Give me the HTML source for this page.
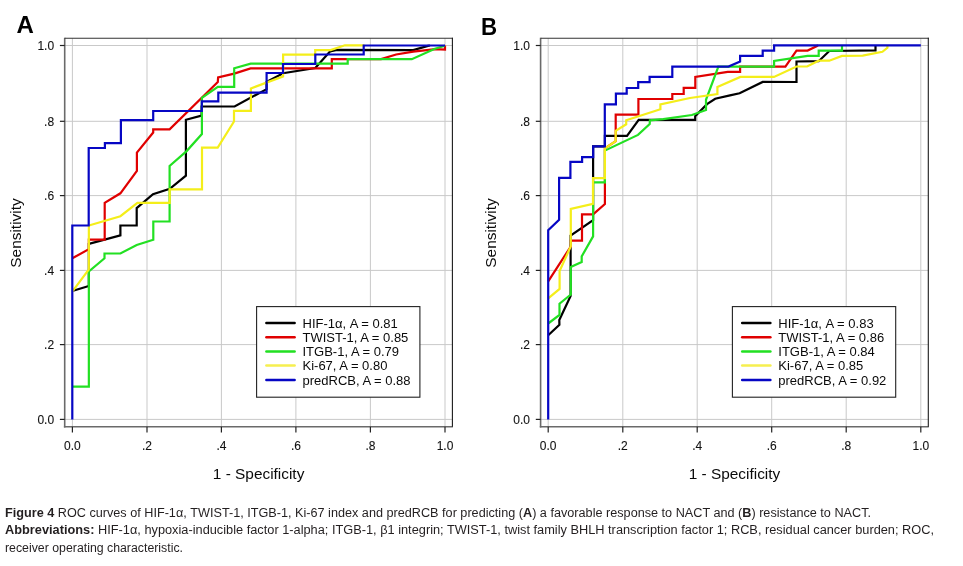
<!DOCTYPE html>
<html><head><meta charset="utf-8"><style>
html,body{margin:0;padding:0;background:#fff;}
body{width:963px;height:566px;overflow:hidden;position:relative;font-family:"Liberation Sans",sans-serif;}
svg{position:absolute;left:0;top:0;}
.g{stroke:#c9c9c9;stroke-width:1;}
.fr{fill:none;stroke:#4a4a4a;stroke-width:1.3;}
.t{stroke:#222;stroke-width:1.2;}
.tl{font-family:"Liberation Sans",sans-serif;font-size:12px;fill:#111;stroke:#111;stroke-width:0.1px;}
.lt{font-family:"Liberation Sans",sans-serif;font-size:13px;fill:#0a0a0a;}
.lg{fill:#fff;stroke:#222;stroke-width:1.1;}
.at{font-family:"Liberation Sans",sans-serif;font-size:15.4px;fill:#0a0a0a;}
.pl{font-family:"Liberation Sans",sans-serif;font-size:24px;font-weight:bold;fill:#000;}
.cap{font-family:"Liberation Sans",sans-serif;font-size:12px;fill:#231f20;}
.cap tspan.b{font-weight:bold;}
</style></head><body>
<svg style="will-change:transform" width="963" height="566" viewBox="0 0 963 566">
<line x1="72.4" y1="38.3" x2="72.4" y2="426.8" class="g"/>
<line x1="64.7" y1="419.4" x2="452.4" y2="419.4" class="g"/>
<line x1="147.0" y1="38.3" x2="147.0" y2="426.8" class="g"/>
<line x1="64.7" y1="344.6" x2="452.4" y2="344.6" class="g"/>
<line x1="221.4" y1="38.3" x2="221.4" y2="426.8" class="g"/>
<line x1="64.7" y1="270.4" x2="452.4" y2="270.4" class="g"/>
<line x1="295.9" y1="38.3" x2="295.9" y2="426.8" class="g"/>
<line x1="64.7" y1="195.6" x2="452.4" y2="195.6" class="g"/>
<line x1="370.4" y1="38.3" x2="370.4" y2="426.8" class="g"/>
<line x1="64.7" y1="121.3" x2="452.4" y2="121.3" class="g"/>
<line x1="445.0" y1="38.3" x2="445.0" y2="426.8" class="g"/>
<line x1="64.7" y1="45.5" x2="452.4" y2="45.5" class="g"/>
<line x1="64.7" y1="37.8" x2="64.7" y2="427.6" stroke="#6a6a6a" stroke-width="1.6"/>
<line x1="63.9" y1="426.8" x2="452.9" y2="426.8" stroke="#6a6a6a" stroke-width="1.6"/>
<line x1="64.7" y1="38.3" x2="452.9" y2="38.3" stroke="#333" stroke-width="1.1"/>
<line x1="452.4" y1="37.8" x2="452.4" y2="426.8" stroke="#1a1a1a" stroke-width="1.1"/>
<line x1="59.9" y1="419.4" x2="64.7" y2="419.4" class="t"/>
<line x1="72.4" y1="426.8" x2="72.4" y2="432.6" class="t"/>
<text x="54.1" y="423.7" class="tl" text-anchor="end">0.0</text>
<text x="72.4" y="449.8" class="tl" text-anchor="middle">0.0</text>
<line x1="59.9" y1="344.6" x2="64.7" y2="344.6" class="t"/>
<line x1="147.0" y1="426.8" x2="147.0" y2="432.6" class="t"/>
<text x="54.1" y="348.9" class="tl" text-anchor="end">.2</text>
<text x="147.0" y="449.8" class="tl" text-anchor="middle">.2</text>
<line x1="59.9" y1="270.4" x2="64.7" y2="270.4" class="t"/>
<line x1="221.4" y1="426.8" x2="221.4" y2="432.6" class="t"/>
<text x="54.1" y="274.7" class="tl" text-anchor="end">.4</text>
<text x="221.4" y="449.8" class="tl" text-anchor="middle">.4</text>
<line x1="59.9" y1="195.6" x2="64.7" y2="195.6" class="t"/>
<line x1="295.9" y1="426.8" x2="295.9" y2="432.6" class="t"/>
<text x="54.1" y="199.9" class="tl" text-anchor="end">.6</text>
<text x="295.9" y="449.8" class="tl" text-anchor="middle">.6</text>
<line x1="59.9" y1="121.3" x2="64.7" y2="121.3" class="t"/>
<line x1="370.4" y1="426.8" x2="370.4" y2="432.6" class="t"/>
<text x="54.1" y="125.6" class="tl" text-anchor="end">.8</text>
<text x="370.4" y="449.8" class="tl" text-anchor="middle">.8</text>
<line x1="59.9" y1="45.5" x2="64.7" y2="45.5" class="t"/>
<line x1="445.0" y1="426.8" x2="445.0" y2="432.6" class="t"/>
<text x="54.1" y="49.8" class="tl" text-anchor="end">1.0</text>
<text x="445.0" y="449.8" class="tl" text-anchor="middle">1.0</text>
<polyline points="72.30,291.0 88.85,286.0 88.85,243.9 120.40,235.4 120.40,225.5 136.70,225.5 136.70,208.1 153.00,194.2 169.80,188.8 185.90,175.7 185.90,119.8 201.60,115.6 201.60,106.5 234.60,106.5 266.60,89.1 266.60,82.0 283.00,73.2 315.30,68.0 330.00,51.5 337.00,49.9 413.30,50.1 428.00,45.9 430.00,45.5" fill="none" stroke="#000000" stroke-width="2.2" stroke-linejoin="miter" stroke-miterlimit="2" stroke-linecap="butt"/>
<polyline points="72.30,258.3 88.85,249.2 88.85,239.7 104.70,239.7 104.70,202.8 120.40,193.3 136.90,171.0 136.90,152.6 153.20,132.5 153.20,129.4 169.60,129.4 217.80,82.0 218.10,77.5 234.20,73.6 250.60,68.4 331.80,68.4 331.80,59.1 381.10,59.1 396.10,54.5 413.30,51.6 435.50,49.1 445.00,49.6 445.00,45.5" fill="none" stroke="#e00000" stroke-width="2.2" stroke-linejoin="miter" stroke-miterlimit="2" stroke-linecap="butt"/>
<polyline points="72.30,386.7 88.85,386.7 88.85,271.5 104.50,258.3 104.50,253.5 120.40,253.5 136.70,245.0 153.30,239.7 153.30,221.5 169.60,221.5 169.60,166.0 186.60,151.1 201.90,134.0 201.90,97.9 217.80,86.8 234.20,86.8 234.20,68.3 250.70,63.6 347.70,63.6 347.70,59.2 411.80,59.2 434.90,48.7 445.00,45.7" fill="none" stroke="#22e022" stroke-width="2.2" stroke-linejoin="miter" stroke-miterlimit="2" stroke-linecap="butt"/>
<polyline points="72.30,291.6 88.85,269.4 88.85,225.5 120.40,216.2 137.40,202.8 169.70,202.8 169.70,189.3 202.00,189.3 202.00,147.7 217.70,147.7 234.00,121.5 234.00,110.9 250.90,110.9 250.90,88.4 283.10,76.4 283.10,54.6 315.20,54.6 315.20,50.1 330.60,50.1 344.90,45.3 364.50,45.4" fill="none" stroke="#f4ee1a" stroke-width="2.2" stroke-linejoin="miter" stroke-miterlimit="2" stroke-linecap="butt"/>
<polyline points="72.30,419.4 72.30,225.5 88.70,225.5 88.70,148.0 104.90,148.0 104.90,143.1 120.90,143.1 120.90,120.1 153.20,120.1 153.20,111.0 201.80,111.0 201.80,101.4 218.30,101.4 218.30,92.7 266.60,92.7 266.60,73.0 283.00,73.0 283.00,64.0 315.30,64.0 315.30,54.5 363.70,54.5 363.70,45.5 445.00,45.5" fill="none" stroke="#0606c4" stroke-width="2.2" stroke-linejoin="miter" stroke-miterlimit="2" stroke-linecap="butt"/>
<rect x="256.6" y="306.6" width="163.3" height="90.6" class="lg"/>
<line x1="266.4" y1="323.1" x2="294.6" y2="323.1" stroke="#000000" stroke-width="2.5" stroke-linecap="round"/>
<text x="302.5" y="327.7" class="lt">HIF-1α, A = 0.81</text>
<line x1="266.4" y1="337.3" x2="294.6" y2="337.3" stroke="#e00000" stroke-width="2.5" stroke-linecap="round"/>
<text x="302.5" y="341.9" class="lt">TWIST-1, A = 0.85</text>
<line x1="266.4" y1="351.5" x2="294.6" y2="351.5" stroke="#22e022" stroke-width="2.5" stroke-linecap="round"/>
<text x="302.5" y="356.1" class="lt">ITGB-1, A = 0.79</text>
<line x1="266.4" y1="365.5" x2="294.6" y2="365.5" stroke="#f6ef50" stroke-width="2.5" stroke-linecap="round"/>
<text x="302.5" y="370.1" class="lt">Ki-67, A = 0.80</text>
<line x1="266.4" y1="380.1" x2="294.6" y2="380.1" stroke="#0606c4" stroke-width="2.5" stroke-linecap="round"/>
<text x="302.5" y="384.7" class="lt">predRCB, A = 0.88</text>
<text x="258.6" y="478.6" class="at" text-anchor="middle">1 - Specificity</text>
<text transform="translate(20.6,233.0) rotate(-90)" class="at" text-anchor="middle">Sensitivity</text>
<text x="0" y="0" transform="translate(16.4,32.8) scale(1.0,1)" class="pl">A</text>
<line x1="548.2" y1="38.3" x2="548.2" y2="426.8" class="g"/>
<line x1="540.6" y1="419.4" x2="928.3" y2="419.4" class="g"/>
<line x1="622.8" y1="38.3" x2="622.8" y2="426.8" class="g"/>
<line x1="540.6" y1="344.6" x2="928.3" y2="344.6" class="g"/>
<line x1="697.2" y1="38.3" x2="697.2" y2="426.8" class="g"/>
<line x1="540.6" y1="270.4" x2="928.3" y2="270.4" class="g"/>
<line x1="771.7" y1="38.3" x2="771.7" y2="426.8" class="g"/>
<line x1="540.6" y1="195.6" x2="928.3" y2="195.6" class="g"/>
<line x1="846.2" y1="38.3" x2="846.2" y2="426.8" class="g"/>
<line x1="540.6" y1="121.3" x2="928.3" y2="121.3" class="g"/>
<line x1="920.8" y1="38.3" x2="920.8" y2="426.8" class="g"/>
<line x1="540.6" y1="45.5" x2="928.3" y2="45.5" class="g"/>
<line x1="540.6" y1="37.8" x2="540.6" y2="427.6" stroke="#6a6a6a" stroke-width="1.6"/>
<line x1="539.8" y1="426.8" x2="928.8" y2="426.8" stroke="#6a6a6a" stroke-width="1.6"/>
<line x1="540.6" y1="38.3" x2="928.8" y2="38.3" stroke="#333" stroke-width="1.1"/>
<line x1="928.3" y1="37.8" x2="928.3" y2="426.8" stroke="#1a1a1a" stroke-width="1.1"/>
<line x1="535.8" y1="419.4" x2="540.6" y2="419.4" class="t"/>
<line x1="548.2" y1="426.8" x2="548.2" y2="432.6" class="t"/>
<text x="530.0" y="423.7" class="tl" text-anchor="end">0.0</text>
<text x="548.2" y="449.8" class="tl" text-anchor="middle">0.0</text>
<line x1="535.8" y1="344.6" x2="540.6" y2="344.6" class="t"/>
<line x1="622.8" y1="426.8" x2="622.8" y2="432.6" class="t"/>
<text x="530.0" y="348.9" class="tl" text-anchor="end">.2</text>
<text x="622.8" y="449.8" class="tl" text-anchor="middle">.2</text>
<line x1="535.8" y1="270.4" x2="540.6" y2="270.4" class="t"/>
<line x1="697.2" y1="426.8" x2="697.2" y2="432.6" class="t"/>
<text x="530.0" y="274.7" class="tl" text-anchor="end">.4</text>
<text x="697.2" y="449.8" class="tl" text-anchor="middle">.4</text>
<line x1="535.8" y1="195.6" x2="540.6" y2="195.6" class="t"/>
<line x1="771.7" y1="426.8" x2="771.7" y2="432.6" class="t"/>
<text x="530.0" y="199.9" class="tl" text-anchor="end">.6</text>
<text x="771.7" y="449.8" class="tl" text-anchor="middle">.6</text>
<line x1="535.8" y1="121.3" x2="540.6" y2="121.3" class="t"/>
<line x1="846.2" y1="426.8" x2="846.2" y2="432.6" class="t"/>
<text x="530.0" y="125.6" class="tl" text-anchor="end">.8</text>
<text x="846.2" y="449.8" class="tl" text-anchor="middle">.8</text>
<line x1="535.8" y1="45.5" x2="540.6" y2="45.5" class="t"/>
<line x1="920.8" y1="426.8" x2="920.8" y2="432.6" class="t"/>
<text x="530.0" y="49.8" class="tl" text-anchor="end">1.0</text>
<text x="920.8" y="449.8" class="tl" text-anchor="middle">1.0</text>
<polyline points="548.20,335.3 559.40,324.9 559.30,320.0 570.60,296.0 570.60,235.7 593.10,220.2 593.10,146.3 604.90,146.3 604.90,135.8 627.00,135.8 638.70,119.8 695.20,119.8 695.20,116.2 707.00,104.2 715.20,98.8 730.00,95.4 739.60,93.3 762.70,81.9 796.50,82.0 796.50,61.5 818.70,61.2 829.30,51.0 875.50,50.4 875.50,45.3" fill="none" stroke="#000000" stroke-width="2.2" stroke-linejoin="miter" stroke-miterlimit="2" stroke-linecap="butt"/>
<polyline points="548.20,281.3 570.90,246.3 570.90,240.7 582.00,240.7 582.00,214.4 593.10,214.4 604.90,204.1 604.90,148.3 615.70,141.2 615.70,114.6 638.40,114.6 638.40,99.0 672.30,99.0 672.30,94.0 683.70,94.0 683.70,87.9 695.30,87.9 695.30,76.9 727.70,71.8 740.10,71.8 740.10,66.6 785.40,66.6 796.50,50.6 807.60,50.6 816.60,46.2 818.00,45.3" fill="none" stroke="#e00000" stroke-width="2.2" stroke-linejoin="miter" stroke-miterlimit="2" stroke-linecap="butt"/>
<polyline points="548.20,323.5 559.50,315.0 559.50,303.7 570.80,294.5 570.80,267.0 581.70,262.0 581.70,256.4 593.10,236.4 593.10,182.4 604.90,182.4 604.90,150.6 638.00,134.9 649.70,124.0 649.90,120.3 663.20,119.1 691.90,115.0 706.00,110.0 706.00,99.8 717.70,68.3 718.20,66.7 774.10,66.7 774.10,61.0 807.60,55.9 818.70,55.9 818.70,50.6 842.00,50.6 842.00,45.5" fill="none" stroke="#22e022" stroke-width="2.2" stroke-linejoin="miter" stroke-miterlimit="2" stroke-linecap="butt"/>
<polyline points="548.20,298.3 559.60,288.9 559.60,271.0 570.80,246.3 570.80,208.9 593.00,203.9 593.00,178.2 604.90,178.2 604.90,148.3 615.70,141.2 615.70,130.8 626.20,124.3 626.20,120.3 660.40,109.2 660.40,104.4 690.00,98.0 717.40,94.1 717.40,86.9 740.40,76.9 774.00,76.9 796.50,66.5 807.10,66.5 818.70,60.7 829.30,60.7 842.00,55.9 862.70,55.7 882.40,51.8 887.40,47.8 887.40,45.5" fill="none" stroke="#f4ee1a" stroke-width="2.2" stroke-linejoin="miter" stroke-miterlimit="2" stroke-linecap="butt"/>
<polyline points="548.20,419.4 548.20,230.1 559.10,219.8 559.10,177.8 570.40,177.8 570.40,161.9 582.10,161.9 582.10,157.1 593.20,157.1 593.20,146.3 604.80,146.3 604.80,104.3 615.90,104.3 615.90,93.7 626.70,93.7 626.70,88.0 638.20,88.0 638.20,82.1 649.60,82.1 649.60,76.9 672.30,76.9 672.30,66.6 728.50,66.6 740.10,61.5 740.10,55.9 762.70,55.9 762.70,50.7 774.10,50.7 774.10,45.3 920.80,45.3" fill="none" stroke="#0606c4" stroke-width="2.2" stroke-linejoin="miter" stroke-miterlimit="2" stroke-linecap="butt"/>
<rect x="732.4" y="306.6" width="163.3" height="90.6" class="lg"/>
<line x1="742.2" y1="323.1" x2="770.4" y2="323.1" stroke="#000000" stroke-width="2.5" stroke-linecap="round"/>
<text x="778.3" y="327.7" class="lt">HIF-1α, A = 0.83</text>
<line x1="742.2" y1="337.3" x2="770.4" y2="337.3" stroke="#e00000" stroke-width="2.5" stroke-linecap="round"/>
<text x="778.3" y="341.9" class="lt">TWIST-1, A = 0.86</text>
<line x1="742.2" y1="351.5" x2="770.4" y2="351.5" stroke="#22e022" stroke-width="2.5" stroke-linecap="round"/>
<text x="778.3" y="356.1" class="lt">ITGB-1, A = 0.84</text>
<line x1="742.2" y1="365.5" x2="770.4" y2="365.5" stroke="#f6ef50" stroke-width="2.5" stroke-linecap="round"/>
<text x="778.3" y="370.1" class="lt">Ki-67, A = 0.85</text>
<line x1="742.2" y1="380.1" x2="770.4" y2="380.1" stroke="#0606c4" stroke-width="2.5" stroke-linecap="round"/>
<text x="778.3" y="384.7" class="lt">predRCB, A = 0.92</text>
<text x="734.5" y="478.6" class="at" text-anchor="middle">1 - Specificity</text>
<text transform="translate(496.4,233.0) rotate(-90)" class="at" text-anchor="middle">Sensitivity</text>
<text x="0" y="0" transform="translate(480.9,34.6) scale(0.93,1)" class="pl">B</text>
<text class="cap" x="5" y="516.6" textLength="866" lengthAdjust="spacingAndGlyphs"><tspan class="b">Figure 4</tspan> ROC curves of HIF-1α, TWIST-1, ITGB-1, Ki-67 index and predRCB for predicting (<tspan class="b">A</tspan>) a favorable response to NACT and (<tspan class="b">B</tspan>) resistance to NACT.</text>
<text class="cap" x="5" y="534.1" textLength="929" lengthAdjust="spacingAndGlyphs"><tspan class="b">Abbreviations:</tspan> HIF-1α, hypoxia-inducible factor 1-alpha; ITGB-1, β1 integrin; TWIST-1, twist family BHLH transcription factor 1; RCB, residual cancer burden; ROC,</text>
<text class="cap" x="5" y="551.7" textLength="178" lengthAdjust="spacingAndGlyphs">receiver operating characteristic.</text>
</svg>
</body></html>
